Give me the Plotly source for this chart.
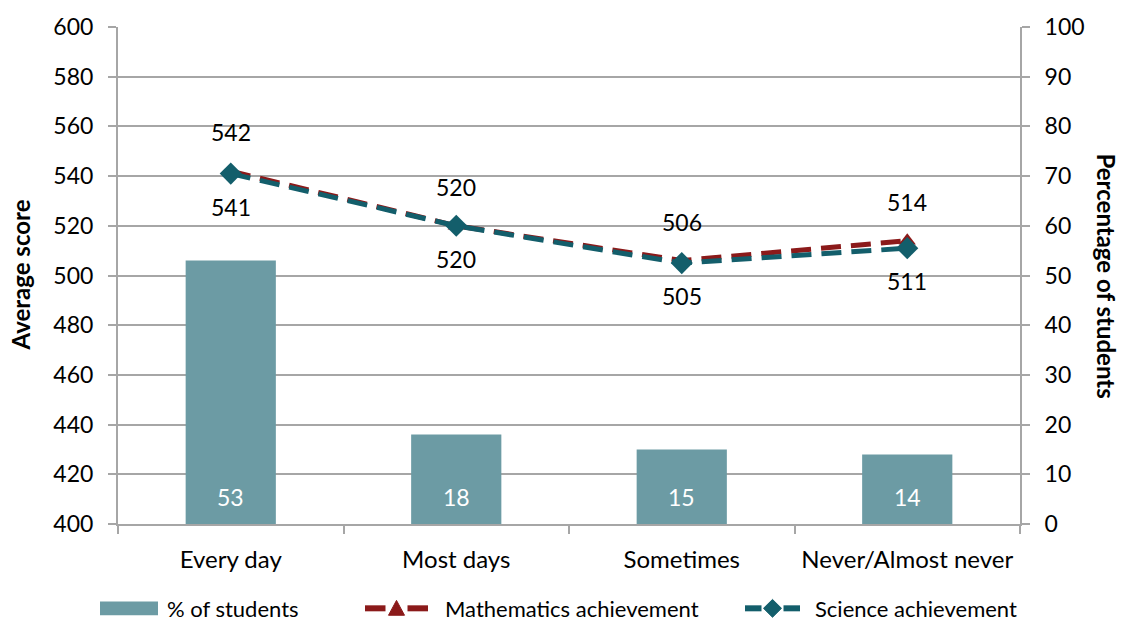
import plotly.graph_objects as go

categories = ["Every day", "Most days", "Sometimes", "Never/Almost never"]
pct_students = [53, 18, 15, 14]
math_scores = [542, 520, 506, 514]
science_scores = [541, 520, 505, 511]

FONT = "Lato"
BAR_COLOR = "#6C9BA4"
MATH_COLOR = "#8B1A1A"
SCI_COLOR = "#135E6B"
GRID = "#A6A6A6"
DASH = "20px,10px"

# plot-area geometry (pixels) used for the hand-placed legend and titles
W, H = 1122, 625
L, R, T, B = 118, 102, 23, 101
PW, PH = W - L - R, H - T - B


def px(x):
    return (x - L) / PW


def py(y):
    return (H - B - y) / PH


fig = go.Figure()

fig.add_trace(go.Bar(
    x=categories, y=pct_students, name="% of students",
    marker=dict(color=BAR_COLOR, line=dict(width=0)),
    width=0.4, yaxis="y",
))

fig.add_trace(go.Scatter(
    x=categories, y=math_scores, name="Mathematics achievement",
    mode="lines+markers",
    line=dict(color=MATH_COLOR, width=5, dash=DASH),
    marker=dict(symbol="triangle-up", size=15, color=MATH_COLOR),
    yaxis="y2",
))

fig.add_trace(go.Scatter(
    x=categories, y=science_scores, name="Science achievement",
    mode="lines+markers",
    line=dict(color=SCI_COLOR, width=5, dash=DASH),
    marker=dict(symbol="diamond", size=17, color=SCI_COLOR),
    yaxis="y2",
))

annotations = []
# value labels: mathematics above the points, science below
for c, v in zip(categories, math_scores):
    annotations.append(dict(x=c, y=v, xref="x", yref="y2", text=str(v), showarrow=False,
                            yshift=39, font=dict(size=23, color="black")))
for c, v in zip(categories, science_scores):
    annotations.append(dict(x=c, y=v, xref="x", yref="y2", text=str(v), showarrow=False,
                            yshift=-33, font=dict(size=23, color="black")))
# bar labels near the base of each bar
for c, v in zip(categories, pct_students):
    annotations.append(dict(x=c, y=0, xref="x", yref="y", text=str(v), showarrow=False,
                            yshift=27, font=dict(size=23, color="white")))

# axis titles
annotations.append(dict(text="<b>Average score</b>", x=px(20), y=0.5, xref="paper", yref="paper",
                        xanchor="center", yanchor="middle",
                        textangle=-90, showarrow=False, font=dict(size=24)))
annotations.append(dict(text="<b>Percentage of students</b>", x=px(1106), y=0.5, xref="paper",
                        yref="paper", xanchor="center", yanchor="middle",
                        textangle=90, showarrow=False, font=dict(size=24)))

# legend entries
LEG_Y = 609
legend_items = [
    ("% of students", 165),
    ("Mathematics achievement", 443),
    ("Science achievement", 813),
]
for label, x0 in legend_items:
    annotations.append(dict(text=label, x=px(x0), y=py(LEG_Y), xref="paper", yref="paper",
                            xanchor="left", yanchor="middle", showarrow=False,
                            font=dict(size=22, color="black")))

shapes = []
# bar swatch
shapes.append(dict(type="rect", xref="paper", yref="paper", x0=px(100), x1=px(158),
                   y0=py(616), y1=py(602), fillcolor=BAR_COLOR, line=dict(width=0)))


def line_swatch(x0, x1, color, marker_path):
    mid = (x0 + x1) / 2
    out = [
        dict(type="line", xref="paper", yref="paper", x0=px(x0), x1=px(mid - 11),
             y0=py(LEG_Y), y1=py(LEG_Y), line=dict(color=color, width=6)),
        dict(type="line", xref="paper", yref="paper", x0=px(mid + 11), x1=px(x1),
             y0=py(LEG_Y), y1=py(LEG_Y), line=dict(color=color, width=6)),
    ]
    pts = [(px(mid + dx), py(LEG_Y + dy)) for dx, dy in marker_path]
    path = "M " + " L ".join(f"{a:.5f},{b:.5f}" for a, b in pts) + " Z"
    out.append(dict(type="path", xref="paper", yref="paper", path=path,
                    fillcolor=color, line=dict(color=color, width=1)))
    return out


shapes += line_swatch(365, 428, MATH_COLOR, [(-8, 7), (8, 7), (0, -8)])
shapes += line_swatch(745, 800, SCI_COLOR, [(-9, 0), (0, -9), (9, 0), (0, 9)])

fig.update_layout(
    width=W, height=H,
    margin=dict(l=L, r=R, t=T, b=B),
    paper_bgcolor="white", plot_bgcolor="white",
    font=dict(family=FONT, size=24, color="black"),
    showlegend=False,
    xaxis=dict(
        type="category", showline=True, linecolor=GRID, linewidth=2,
        ticks="outside", tickson="boundaries", ticklen=8, tickcolor=GRID, tickwidth=2,
        showgrid=False, tickfont=dict(size=24), ticklabelstandoff=13,
    ),
    yaxis=dict(
        side="right", range=[0, 100], dtick=10, showgrid=True, gridcolor=GRID, gridwidth=2,
        showline=True, linecolor=GRID, linewidth=2,
        ticks="outside", ticklen=8, tickcolor=GRID, tickwidth=2,
        tickfont=dict(size=23), zeroline=False, ticklabelstandoff=10,
    ),
    yaxis2=dict(
        side="left", overlaying="y", range=[400, 600], dtick=20, showgrid=False,
        showline=True, linecolor=GRID, linewidth=2,
        ticks="outside", ticklen=8, tickcolor=GRID, tickwidth=2,
        tickfont=dict(size=23), zeroline=False, ticklabelstandoff=10,
    ),
    annotations=annotations,
    shapes=shapes,
)

fig.write_html("out.html")
